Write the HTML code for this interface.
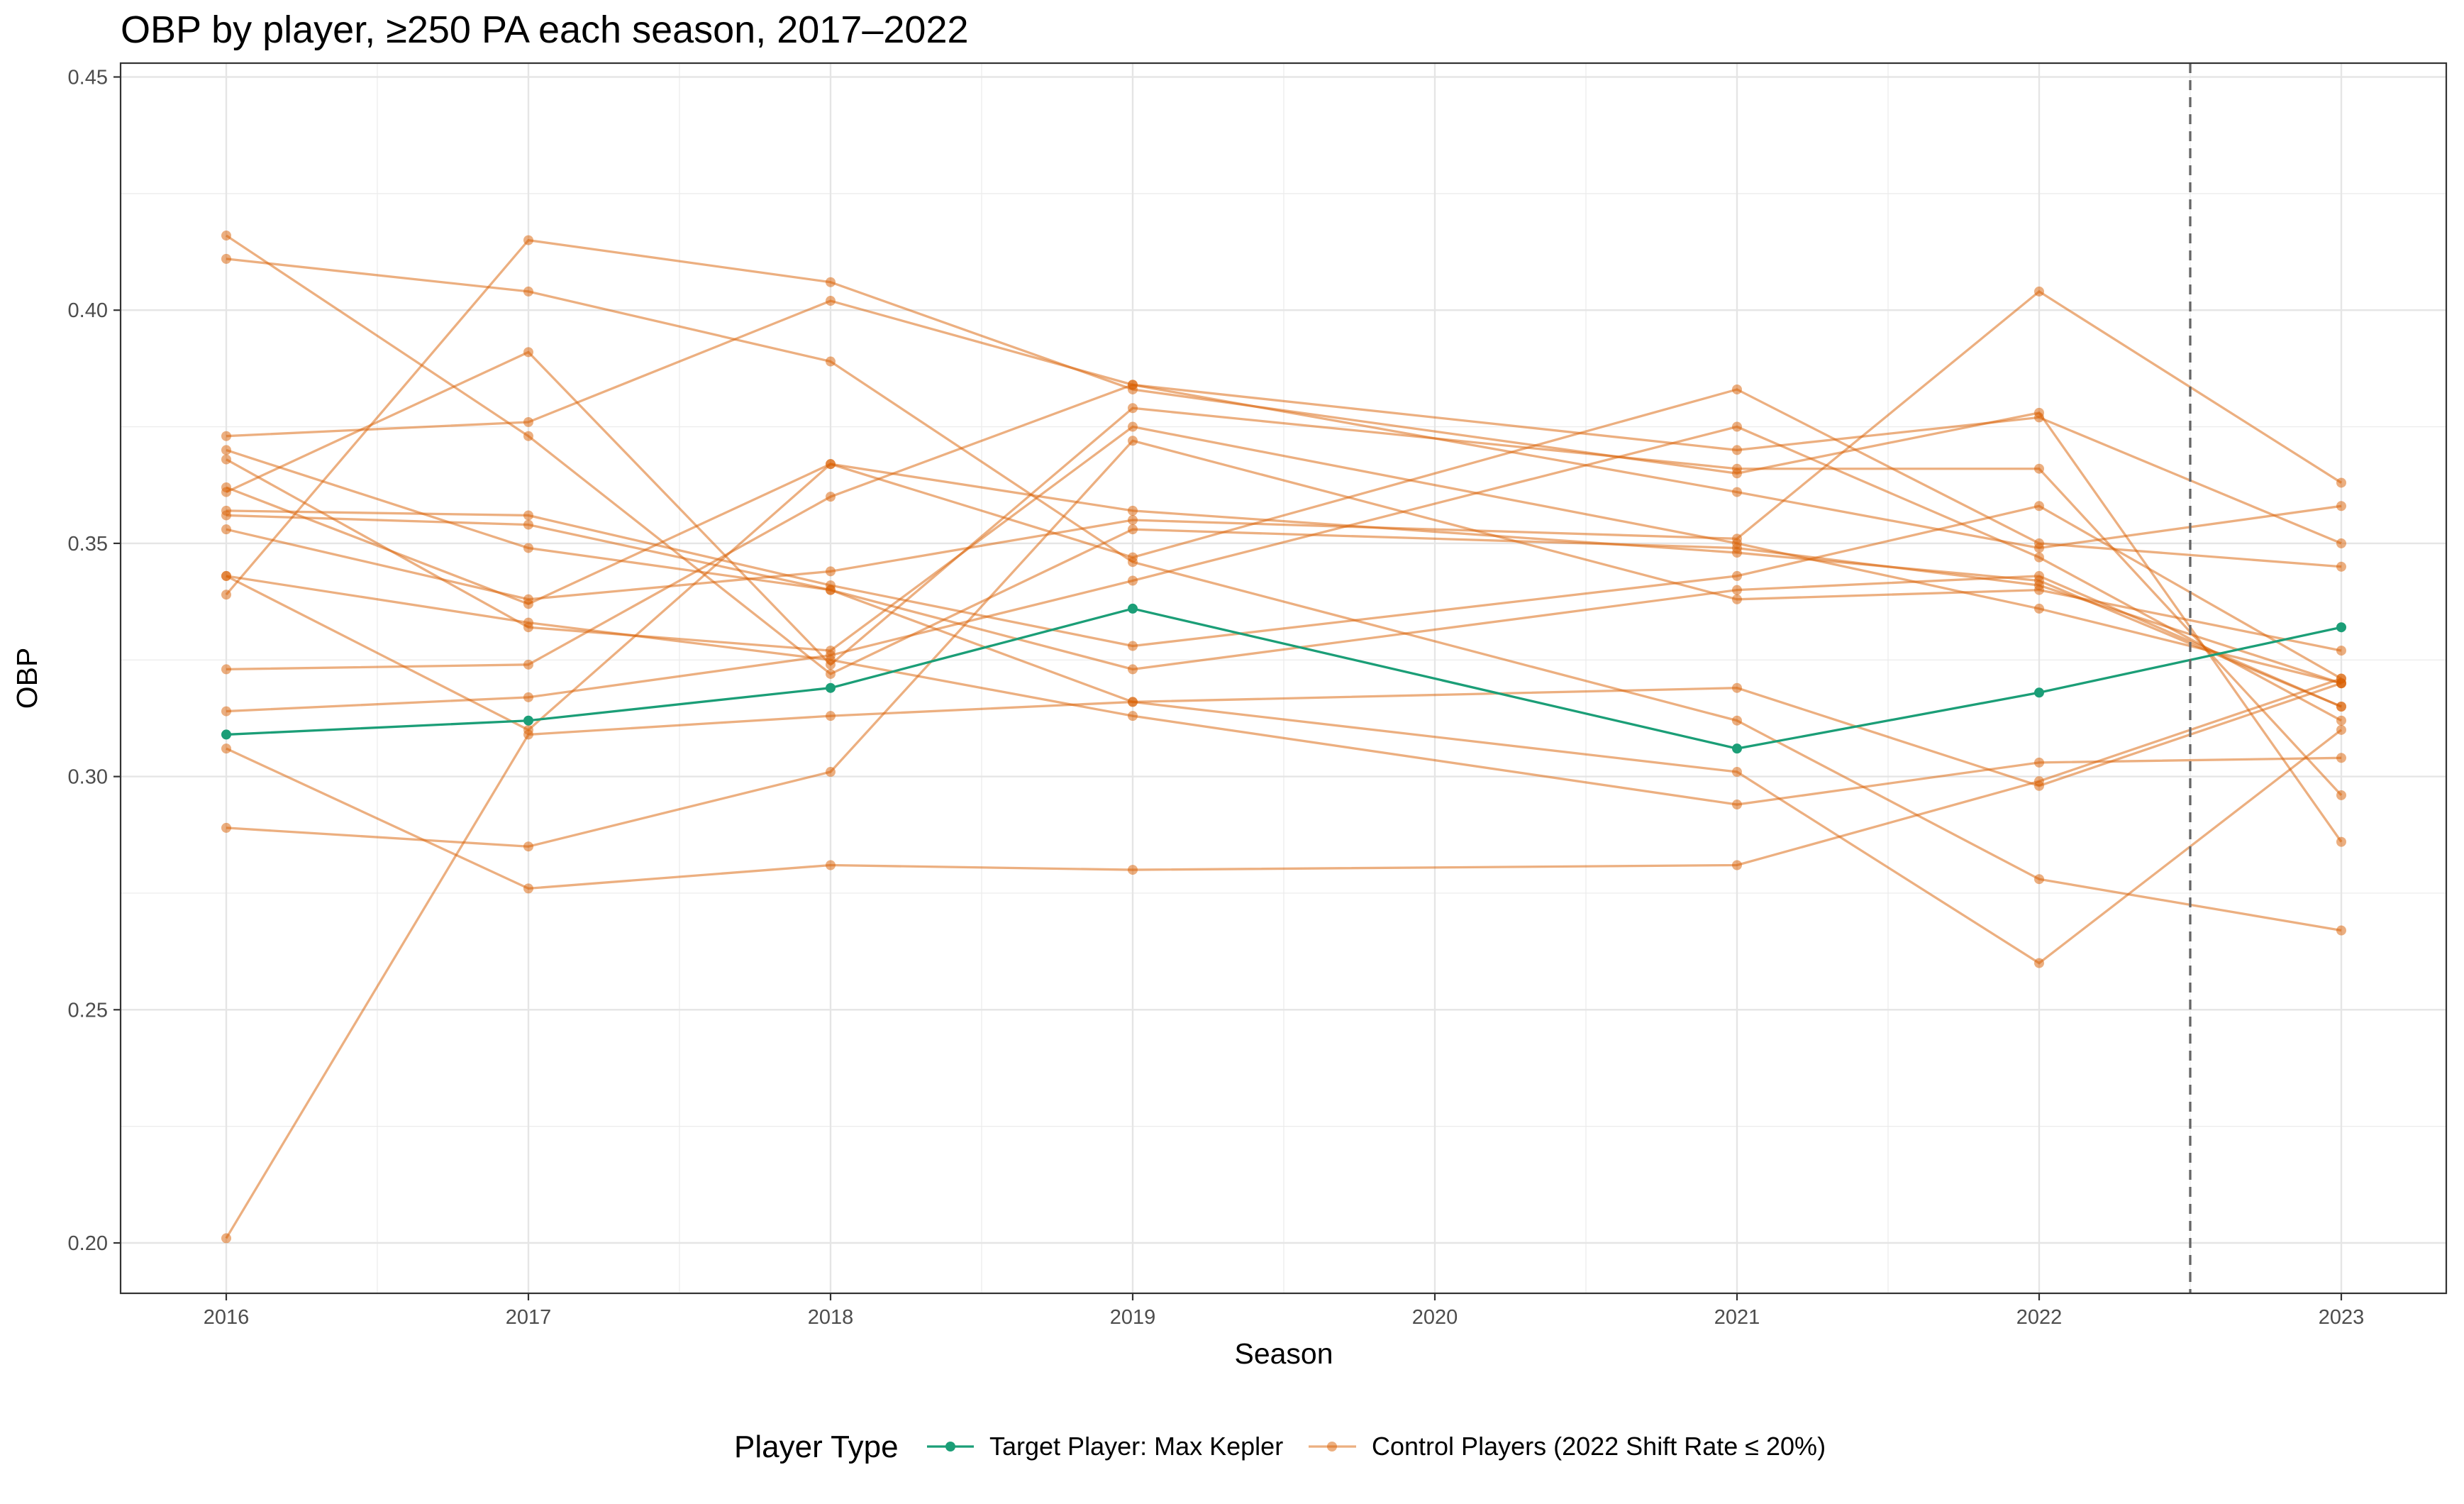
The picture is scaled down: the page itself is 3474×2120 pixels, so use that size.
<!DOCTYPE html>
<html><head><meta charset="utf-8"><style>
body{margin:0;background:#fff;}
svg{display:block;font-family:"Liberation Sans",Arial,sans-serif;}
</style></head><body>
<svg id="chart" width="3474" height="2120" viewBox="0 0 3474 2120">
<rect width="3474" height="2120" fill="#fff"/>
<text x="170" y="60" font-size="54" fill="#000">OBP by player, ≥250 PA each season, 2017–2022</text>
<g id="grid"></g>
<g id="marks"></g>
<rect x="170" y="89" width="3279" height="1734" fill="none" stroke="#333" stroke-width="2.2"/>
<g id="axes"></g>
<text x="1810" y="1922" font-size="41" text-anchor="middle">Season</text>
<text transform="translate(52,956) rotate(-90)" font-size="41" text-anchor="middle">OBP</text>
<g>
<text x="1035" y="2054" font-size="44">Player Type</text>
<g>
<line x1="1307" y1="2039" x2="1373" y2="2039" stroke="#1b9e77" stroke-width="3.3"/>
<circle cx="1340" cy="2039" r="7" fill="#1b9e77"/>
<text x="1395" y="2051" font-size="36">Target Player: Max Kepler</text></g>
<g>
<line x1="1845" y1="2039" x2="1912" y2="2039" stroke="#d95f02" stroke-opacity="0.5" stroke-width="3.3"/>
<circle cx="1878" cy="2039" r="7" fill="#d95f02" fill-opacity="0.5"/>
<text x="1934" y="2051" font-size="36">Control Players (2022 Shift Rate ≤ 20%)</text></g>
</g>
</svg>
<script>
const seasons=[2016,2017,2018,2019,2021,2022,2023];
const xTicks=[2016,2017,2018,2019,2020,2021,2022,2023];
const yTicks=[0.20,0.25,0.30,0.35,0.40,0.45];
const yTickLabels=["0.20","0.25","0.30","0.35","0.40","0.45"];
const targetValues=[0.309,0.312,0.319,0.336,0.306,0.318,0.332];
const control1=[0.416,0.373,0.322,0.353,0.349,0.341,0.320];
const control2=[0.411,0.404,0.389,0.346,0.312,0.278,0.267];
const control3=[0.373,0.376,0.402,0.384,0.370,0.377,0.350];
const control4=[0.370,0.349,0.340,0.323,0.340,0.343,0.315];
const control5=[0.368,0.332,0.327,0.375,0.350,0.336,0.320];
const control6=[0.362,0.337,0.367,0.357,0.348,0.342,0.315];
const control7=[0.361,0.391,0.324,0.379,0.366,0.366,0.296];
const control8=[0.357,0.356,0.341,0.328,0.343,0.358,0.321];
const control9=[0.356,0.354,0.340,0.316,0.301,0.260,0.310];
const control10=[0.353,0.338,0.344,0.355,0.351,0.404,0.363];
const control11=[0.343,0.333,0.325,0.313,0.294,0.303,0.304];
const control12=[0.343,0.310,0.367,0.347,0.383,0.350,0.345];
const control13=[0.339,0.415,0.406,0.383,0.365,0.378,0.286];
const control14=[0.323,0.324,0.360,0.384,0.361,0.349,0.358];
const control15=[0.314,0.317,0.326,0.342,0.375,0.347,0.312];
const control16=[0.306,0.276,0.281,0.280,0.281,0.299,0.321];
const control17=[0.289,0.285,0.301,0.372,0.338,0.340,0.327];
const control18=[0.201,0.309,0.313,0.316,0.319,0.298,0.320];
const controls=[control1,control2,control3,control4,control5,control6,control7,control8,control9,control10,control11,control12,control13,control14,control15,control16,control17,control18];
const cutoffSeason=2022.5;

const NS="http://www.w3.org/2000/svg";
function x(v){return 319+(v-2016)*(3301-319)/7;}
function y(v){return 1752-(v-0.20)*(1752-108.5)/0.25;}
function mk(tag,attrs,parent){const e=document.createElementNS(NS,tag);for(const k in attrs)e.setAttribute(k,attrs[k]);parent.appendChild(e);return e;}
const grid=document.getElementById('grid'),marks=document.getElementById('marks'),axes=document.getElementById('axes');
for(let i=0;i<yTicks.length-1;i++){const l=mk('line',{x1:170,x2:3449,y1:y((yTicks[i]+yTicks[i+1])/2),y2:y((yTicks[i]+yTicks[i+1])/2),stroke:'#ebebeb','stroke-width':1.2},grid);

}
for(let i=0;i<xTicks.length-1;i++){const l=mk('line',{y1:89,y2:1823,x1:x(xTicks[i]+0.5),x2:x(xTicks[i]+0.5),stroke:'#ebebeb','stroke-width':1.2},grid);

}
yTicks.forEach((t,i)=>{const l=mk('line',{x1:170,x2:3449,y1:y(t),y2:y(t),stroke:'#e5e5e5','stroke-width':2.4},grid);


mk('line',{x1:160,x2:170,y1:y(t),y2:y(t),stroke:'#333','stroke-width':2.2},axes);
const tx=mk('text',{x:152,y:y(t)+10,'font-size':29,'text-anchor':'end',fill:'#4d4d4d'},axes);tx.textContent=yTickLabels[i];

});
xTicks.forEach(t=>{const l=mk('line',{y1:89,y2:1823,x1:x(t),x2:x(t),stroke:'#e5e5e5','stroke-width':2.4},grid);


mk('line',{y1:1823,y2:1833,x1:x(t),x2:x(t),stroke:'#333','stroke-width':2.2},axes);
const tx=mk('text',{x:x(t),y:1866,'font-size':29,'text-anchor':'middle',fill:'#4d4d4d'},axes);tx.textContent=t;

});
function series(vals,color,op,name){const g=mk('g',{},marks);


const pts=[];vals.forEach((v,i)=>{if(v!=null)pts.push(x(seasons[i])+','+y(v));});
mk('polyline',{points:pts.join(' '),fill:'none',stroke:color,'stroke-opacity':op,'stroke-width':3.3},g);
vals.forEach((v,i)=>{if(v==null)return;const c=mk('circle',{cx:x(seasons[i]),cy:y(v),r:7,fill:color,'fill-opacity':op},g);

});}
controls.forEach((c,i)=>series(c,'#d95f02',0.5,'control-player-'+(i+1)));
series(targetValues,'#1b9e77',1,'target-player-line');
const d=mk('line',{x1:x(cutoffSeason),x2:x(cutoffSeason),y1:89,y2:1823,stroke:'#666','stroke-width':3.3,'stroke-dasharray':'14 10'},marks);


</script>
</body></html>
